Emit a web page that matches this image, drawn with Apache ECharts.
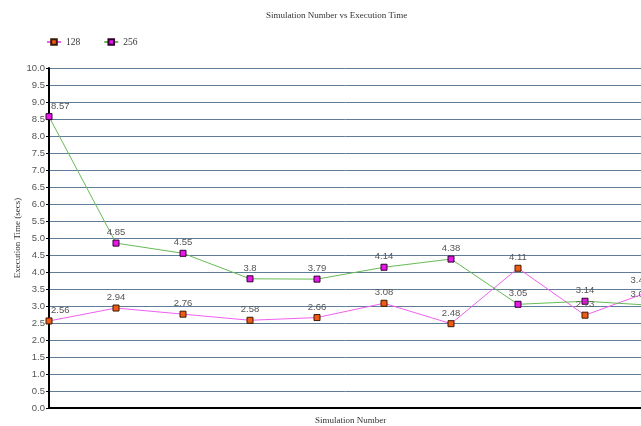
<!DOCTYPE html>
<html>
<head>
<meta charset="utf-8">
<script src="https://cdn.jsdelivr.net/npm/echarts@6/dist/echarts.min.js"></script>
<style>
  html, body { margin: 0; padding: 0; background: #fff; }
  #chart { width: 641px; height: 426px; }
</style>
</head>
<body>
<div id="chart"></div>
<script>
// Simulation runs and measured execution times (seconds)
const simulations = ['1', '2', '3', '4', '5', '6', '7', '8', '9', '10'];
const time128 = [2.56, 2.94, 2.76, 2.58, 2.66, 3.08, 2.48, 4.11, 2.73, 3.45];
const time256 = [8.57, 4.85, 4.55, 3.8, 3.79, 4.14, 4.38, 3.05, 3.14, 3.02];
const yTicks = { min: 0, max: 10, step: 0.5 };

const serif = '"Liberation Serif", "DejaVu Serif", serif';
const sans = '"Liberation Sans", "DejaVu Sans", sans-serif';

const labelStyle = {
  show: true,
  position: 'top',
  distance: 2,
  color: '#555',
  fontFamily: sans,
  fontSize: 9.5
};

// First and last value labels are nudged inward so they stay beside the axis ends
function withEdgeLabels(values) {
  const last = values.length - 1;
  return values.map((v, i) => {
    if (i === 0) return { value: v, label: { align: 'left', offset: [2, 0] } };
    if (i === last) return { value: v, label: { align: 'right', offset: [-3, 0] } };
    return v;
  });
}

const chart = echarts.init(document.getElementById('chart'), null, { renderer: 'canvas' });
chart.setOption({
  animation: false,
  backgroundColor: '#fff',
  title: {
    text: 'Simulation Number vs Execution Time',
    left: 261,
    top: 6,
    textStyle: { fontFamily: serif, fontSize: 9, fontWeight: 'normal', color: '#333' }
  },
  legend: {
    left: 41,
    top: 32,
    itemWidth: 14,
    itemHeight: 7,
    itemGap: 23,
    textStyle: { fontFamily: serif, fontSize: 9.5, color: '#333' },
    data: ['128', '256']
  },
  grid: {
    left: 49,
    right: -11,
    top: 68,
    bottom: 18,
    containLabel: false,
    outerBoundsMode: 'none'
  },
  xAxis: {
    type: 'category',
    data: simulations,
    boundaryGap: false,
    name: 'Simulation Number',
    nameLocation: 'middle',
    nameGap: 8,
    nameMoveOverlap: false,
    nameTextStyle: { fontFamily: serif, fontSize: 9, color: '#333' },
    axisLine: { lineStyle: { color: '#000', width: 2 } },
    axisTick: { show: false },
    axisLabel: { show: false },
    splitLine: { show: false }
  },
  yAxis: {
    type: 'value',
    min: yTicks.min,
    max: yTicks.max,
    interval: yTicks.step,
    name: 'Execution Time (secs)',
    nameLocation: 'middle',
    nameGap: 27,
    nameMoveOverlap: false,
    nameTextStyle: { fontFamily: serif, fontSize: 9, color: '#333' },
    axisLine: { show: true, lineStyle: { color: '#000', width: 2 } },
    axisTick: { show: true, length: 3, lineStyle: { color: '#000' } },
    axisLabel: {
      fontFamily: sans,
      fontSize: 9.5,
      color: '#555',
      margin: 4,
      formatter: v => v.toFixed(1)
    },
    splitLine: { show: true, lineStyle: { color: '#5f7c99', width: 1 } }
  },
  series: [
    {
      name: '128',
      type: 'line',
      data: withEdgeLabels(time128),
      symbol: 'rect',
      symbolSize: 6,
      lineStyle: { color: '#f060f0', width: 1 },
      itemStyle: { color: '#f05a14', borderColor: '#3a1a00', borderWidth: 1 },
      label: labelStyle,
      clip: false
    },
    {
      name: '256',
      type: 'line',
      data: withEdgeLabels(time256),
      symbol: 'rect',
      symbolSize: 6,
      lineStyle: { color: '#66bb55', width: 1 },
      itemStyle: { color: '#e818e8', borderColor: '#300030', borderWidth: 1 },
      label: labelStyle,
      clip: false
    }
  ]
});
</script>
</body>
</html>
